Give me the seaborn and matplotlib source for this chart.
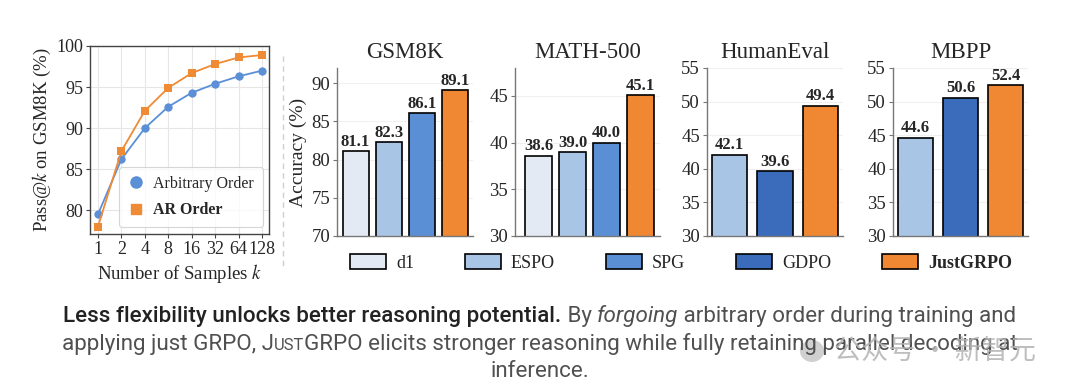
import matplotlib as mpl
mpl.use('Agg')
import matplotlib.pyplot as plt
from matplotlib.lines import Line2D
from matplotlib.patches import Patch, Ellipse
import numpy as np
import seaborn as sns

# ---- data ----
k_labels = ['1', '2', '4', '8', '16', '32', '64', '128']
arbitrary_order = [79.5, 86.2, 90.0, 92.6, 94.3, 95.4, 96.3, 97.0]
ar_order = [78.0, 87.2, 92.1, 94.9, 96.7, 97.8, 98.6, 98.9]

gsm8k_methods = ['d1', 'ESPO', 'SPG', 'JustGRPO']
gsm8k_acc = [81.1, 82.3, 86.1, 89.1]
math500_methods = ['d1', 'ESPO', 'SPG', 'JustGRPO']
math500_acc = [38.6, 39.0, 40.0, 45.1]
humaneval_methods = ['ESPO', 'GDPO', 'JustGRPO']
humaneval_acc = [42.1, 39.6, 49.4]
mbpp_methods = ['ESPO', 'GDPO', 'JustGRPO']
mbpp_acc = [44.6, 50.6, 52.4]

all_methods = ['d1', 'ESPO', 'SPG', 'GDPO', 'JustGRPO']
colors = {'d1': '#e4eaf3', 'ESPO': '#a9c5e6', 'SPG': '#5a8fd5',
          'GDPO': '#3b6cbb', 'JustGRPO': '#ef8733'}
blue = '#5b8fd6'
orange = '#ef8a35'

sns.set_theme(style='white')
plt.rcParams['font.family'] = ['Liberation Serif', 'DejaVu Serif']
plt.rcParams['mathtext.fontset'] = 'stix'

W, H = 1080, 392
fig = plt.figure(figsize=(W / 100, H / 100), dpi=100, facecolor='white')

def rect(x0, x1, y0, y1):
    return [x0 / W, 1 - y1 / H, (x1 - x0) / W, (y1 - y0) / H]

# ---- pass@k line chart ----
ax0 = fig.add_axes(rect(90, 269, 46, 234))
xpos = np.arange(len(k_labels))
sns.lineplot(x=xpos, y=arbitrary_order, ax=ax0, color=blue, marker='o',
             markersize=6, markeredgewidth=0, linewidth=1.3)
sns.lineplot(x=xpos, y=ar_order, ax=ax0, color=orange, marker='s',
             markersize=6, markeredgewidth=0, linewidth=1.3)
ax0.set_xlim(-0.34, 7.3)
ax0.set_ylim(77.1, 100)
ax0.set_xticks(xpos)
ax0.set_xticklabels(k_labels)
ax0.set_yticks([80, 85, 90, 95, 100])
ax0.grid(True, color='#e6e6e6', linewidth=0.8)
ax0.set_axisbelow(True)
for s in ax0.spines.values():
    s.set_color('#444444')
    s.set_linewidth(1.0)
ax0.tick_params(axis='both', labelsize=13, length=3, width=0.8,
                color='#444444', pad=2, bottom=True, left=True)
ax0.set_ylabel('Pass@$k$ on GSM8K (%)', fontsize=13.5, labelpad=2)
ax0.set_xlabel('Number of Samples $k$', fontsize=13.5, labelpad=3)
handles = [Line2D([], [], color=blue, marker='o', ls='none', markersize=8),
           Line2D([], [], color=orange, marker='s', ls='none', markersize=7.5)]
leg0 = ax0.legend(handles, ['Arbitrary Order', 'AR Order'], loc='lower right',
                  fontsize=11.5, frameon=True, fancybox=True, borderpad=0.55,
                  handlelength=1.0, handletextpad=0.6, labelspacing=0.65,
                  borderaxespad=0, bbox_to_anchor=(0.965, 0.037))
leg0.get_frame().set_edgecolor('#cccccc')
leg0.get_frame().set_linewidth(0.8)
leg0.get_texts()[1].set_fontweight('bold')

# ---- bar charts ----
panels = [
    ('GSM8K', gsm8k_methods, gsm8k_acc, rect(337, 473, 68, 236), (70, 92), (-0.56, 3.54), [70, 75, 80, 85, 90]),
    ('MATH-500', math500_methods, math500_acc, rect(515, 660, 68, 236), (30, 48), (-0.69, 3.57), [30, 35, 40, 45]),
    ('HumanEval', humaneval_methods, humaneval_acc, rect(707, 843, 68, 236), (30, 55), (-0.5, 2.5), [30, 35, 40, 45, 50, 55]),
    ('MBPP', mbpp_methods, mbpp_acc, rect(893, 1028, 68, 236), (30, 55), (-0.5, 2.5), [30, 35, 40, 45, 50, 55]),
]
for i, (title, methods, acc, r, ylim, xlim, yticks) in enumerate(panels):
    ax = fig.add_axes(r)
    sns.barplot(x=methods, y=acc, hue=methods, hue_order=methods,
                palette=[colors[m] for m in methods], ax=ax, width=0.78,
                edgecolor='black', linewidth=1.2, legend=False, saturation=1)
    for c in ax.containers:
        ax.bar_label(c, fmt='%.1f', fontsize=12, fontweight='bold', padding=1)
    ax.set_ylim(*ylim)
    ax.set_xlim(*xlim)
    ax.set_yticks(yticks)
    ax.set_xticks([])
    ax.set_xlabel('')
    ax.set_title(title, fontsize=16.5, pad=7)
    ax.grid(True, axis='y', color='#f0f0f0', linewidth=0.8)
    ax.set_axisbelow(True)
    for side in ['top', 'right']:
        ax.spines[side].set_visible(False)
    for side in ['left', 'bottom']:
        ax.spines[side].set_color('#777777')
        ax.spines[side].set_linewidth(1.0)
    ax.tick_params(axis='y', labelsize=13.5, length=3, width=0.8,
                   color='#777777', pad=2, left=True)
    if i == 0:
        ax.set_ylabel('Accuracy (%)', fontsize=14, labelpad=3)

bar_handles = [Patch(facecolor=colors[m], edgecolor='black', linewidth=1.2)
               for m in all_methods]
leg = fig.legend(bar_handles, all_methods, ncol=5, mode='expand',
                 loc='lower left', bbox_to_anchor=(350 / W, 1 - 272 / H, 662 / W, 18 / H),
                 frameon=False, fontsize=13, handlelength=2.0, handleheight=0.9,
                 handletextpad=0.55, borderpad=0, borderaxespad=0)
leg.get_texts()[-1].set_fontweight('bold')

# dashed separator
fig.add_artist(Line2D([283 / W, 283 / W], [1 - 56 / H, 1 - 266 / H],
                      transform=fig.transFigure, color='#d0d0d0',
                      linestyle=(0, (4, 3)), linewidth=1.0))

# ---- caption ----
cap_font = 'Roboto'
cap_size = 16.1
dark = '#222222'
grey = '#505050'
renderer = fig.canvas.get_renderer()

def width_of(s, kw):
    t1 = fig.text(0, 0, '|' + s + '|', **kw)
    t2 = fig.text(0, 0, '||', **kw)
    w = t1.get_window_extent(renderer).width - t2.get_window_extent(renderer).width
    t1.remove()
    t2.remove()
    return w

def rich_line(y_px, parts):
    widths = [width_of(s, kw) for s, kw in parts]
    x = (W - sum(widths)) / 2
    for (s, kw), w in zip(parts, widths):
        fig.text(x / W, 1 - y_px / H, s, va='baseline', ha='left', **kw)
        x += w

reg = dict(family=cap_font, fontsize=cap_size, color=grey)
bold = dict(family=cap_font, fontsize=cap_size, color=dark, fontweight='medium')
ital = dict(family=cap_font, fontsize=cap_size, color=grey, style='italic')
small = dict(family=cap_font, fontsize=cap_size * 0.74, color=grey)

rich_line(322, [('Less flexibility unlocks better reasoning potential.', bold),
                (' By ', reg), ('forgoing', ital),
                (' arbitrary order during training and', reg)])
rich_line(350, [('applying just GRPO, J', reg), ('UST', small),
                ('GRPO elicits stronger reasoning while fully retaining parallel decoding at', reg)])
rich_line(377, [('inference.', reg)])

# watermark
fig.add_artist(Ellipse((812 / W, 1 - 351 / H), 24 / W, 22 / H,
                       transform=fig.transFigure, color='#bdbdbd', alpha=0.7, lw=0))
fig.text(834 / W, 1 - 351 / H, '公众号 · 新智元', va='center', ha='left',
         family=['Noto Sans CJK SC', 'DejaVu Sans'], fontsize=19.5,
         color='#b3b3b3', alpha=0.85)

fig.savefig('out.png', dpi=100, facecolor='white')
